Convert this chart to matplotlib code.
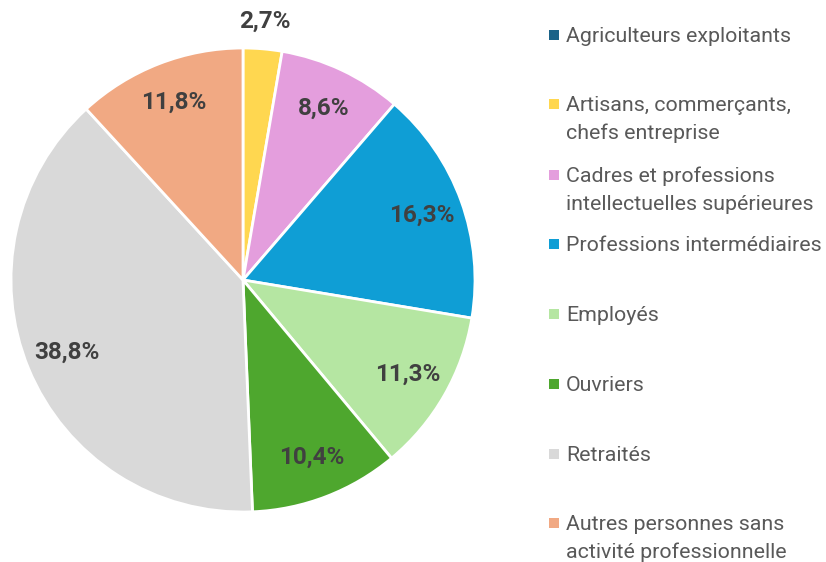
import matplotlib
matplotlib.use("Agg")
import matplotlib.pyplot as plt
from matplotlib.patches import Rectangle
import numpy as np

categories = ["Agriculteurs exploitants", "Artisans, commerçants,\nchefs entreprise",
              "Cadres et professions\nintellectuelles supérieures", "Professions intermédiaires",
              "Employés", "Ouvriers", "Retraités",
              "Autres personnes sans\nactivité professionnelle"]
values = [0.0, 2.7, 8.6, 16.3, 11.3, 10.4, 38.8, 11.8]
labels = ["", "2,7%", "8,6%", "16,3%", "11,3%", "10,4%", "38,8%", "11,8%"]
colors = ["#1B6388", "#FFD750", "#E49EDD", "#0F9ED5", "#B5E6A2", "#4EA72E", "#D9D9D9", "#F1A983"]

plt.rcParams['font.family'] = ['Roboto', 'DejaVu Sans']
fig = plt.figure(figsize=(8.26, 5.62), dpi=100)
ax = fig.add_axes([11/826, (562-280-232)/562, 464/826, 464/562])
wedges, _ = ax.pie(values, colors=colors, startangle=90, counterclock=False,
                   wedgeprops=dict(edgecolor="white", linewidth=2))
ax.set_xlim(-1, 1)
ax.set_ylim(-1, 1)
ax.set_aspect("equal")

total = sum(values)
cum = 0
for v, lab in zip(values, labels):
    mid = 90 - (cum + v / 2) / total * 360
    cum += v
    if not lab:
        continue
    r = 1.12 if v < 5 else 0.82
    x, y = r * np.cos(np.radians(mid)), r * np.sin(np.radians(mid))
    ax.text(x, y, lab, ha="center", va="center", fontsize=17.5,
            fontweight="bold", color="#404040", clip_on=False)

# legend
baselines = [42, 111, 182, 251, 321, 391, 461, 530]
for yb, c, name in zip(baselines, colors, categories):
    fig.patches.append(Rectangle((549/826, 1 - (yb - 2) / 562), 10/826, 10/562,
                                 transform=fig.transFigure, facecolor=c, edgecolor="none"))
    for i, line in enumerate(name.split("\n")):
        fig.text(566/826, 1 - (yb + 28 * i) / 562, line, ha="left", va="baseline",
                 fontsize=15.4, color="#595959")

fig.savefig("out.png", dpi=100)
